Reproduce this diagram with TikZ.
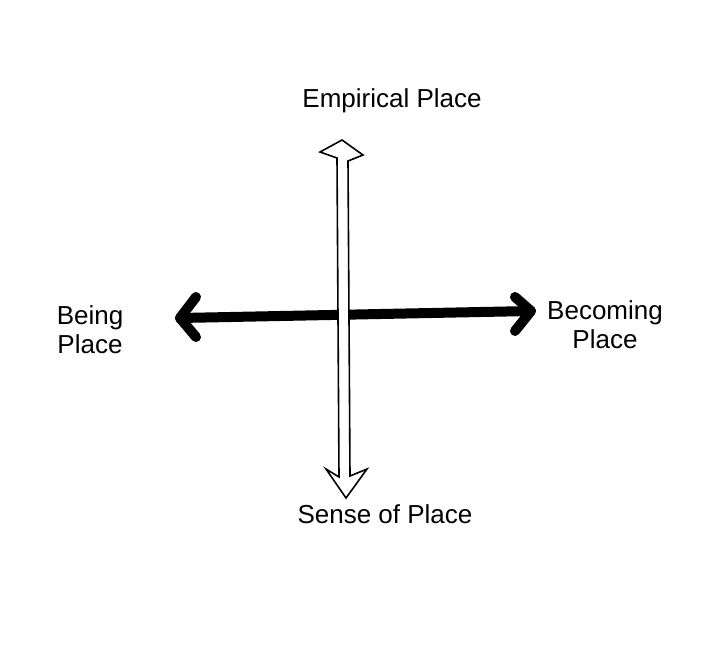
\documentclass[tikz,border=0pt]{standalone}
\usepackage{fontspec}
\setmainfont{Liberation Sans}
\begin{document}
\begin{tikzpicture}[x=1pt,y=-1pt,
  lbl/.style={font=\fontsize{26}{29}\selectfont, align=center, inner sep=0pt},
  thickarrow/.style={line width=10pt, line cap=round, line join=round},
  hollow/.style={line width=1.6pt, line join=miter, fill=white}]
\useasboundingbox[fill=white] (0,0) rectangle (703,659);
% labels
\node[lbl] (emp) at (392,101) {Empirical Place};
\node[lbl] (sen) at (385,514) {Sense of Place};
\node[lbl] (bei) at (90,330) {Being\\Place};
\node[lbl] (bec) at (605,325) {Becoming\\Place};
% horizontal thick double arrow
\coordinate (L) at (180,318);
\coordinate (R) at (531,311);
\draw[thickarrow] (L) -- (R);
\draw[thickarrow] (196,297) -- (L) -- (196,337);
\draw[thickarrow] (515,297) -- (R) -- (515,331);
% vertical hollow double arrow
\coordinate (T) at (342,140);
\coordinate (B) at (346,498);
\draw[hollow] (337,158) -- (320,152) -- (T) -- (363,155) -- (348,161)
  -- (350,476) -- (367,469) -- (B) -- (326,469) -- (339,477) -- cycle;
\end{tikzpicture}
\end{document}
